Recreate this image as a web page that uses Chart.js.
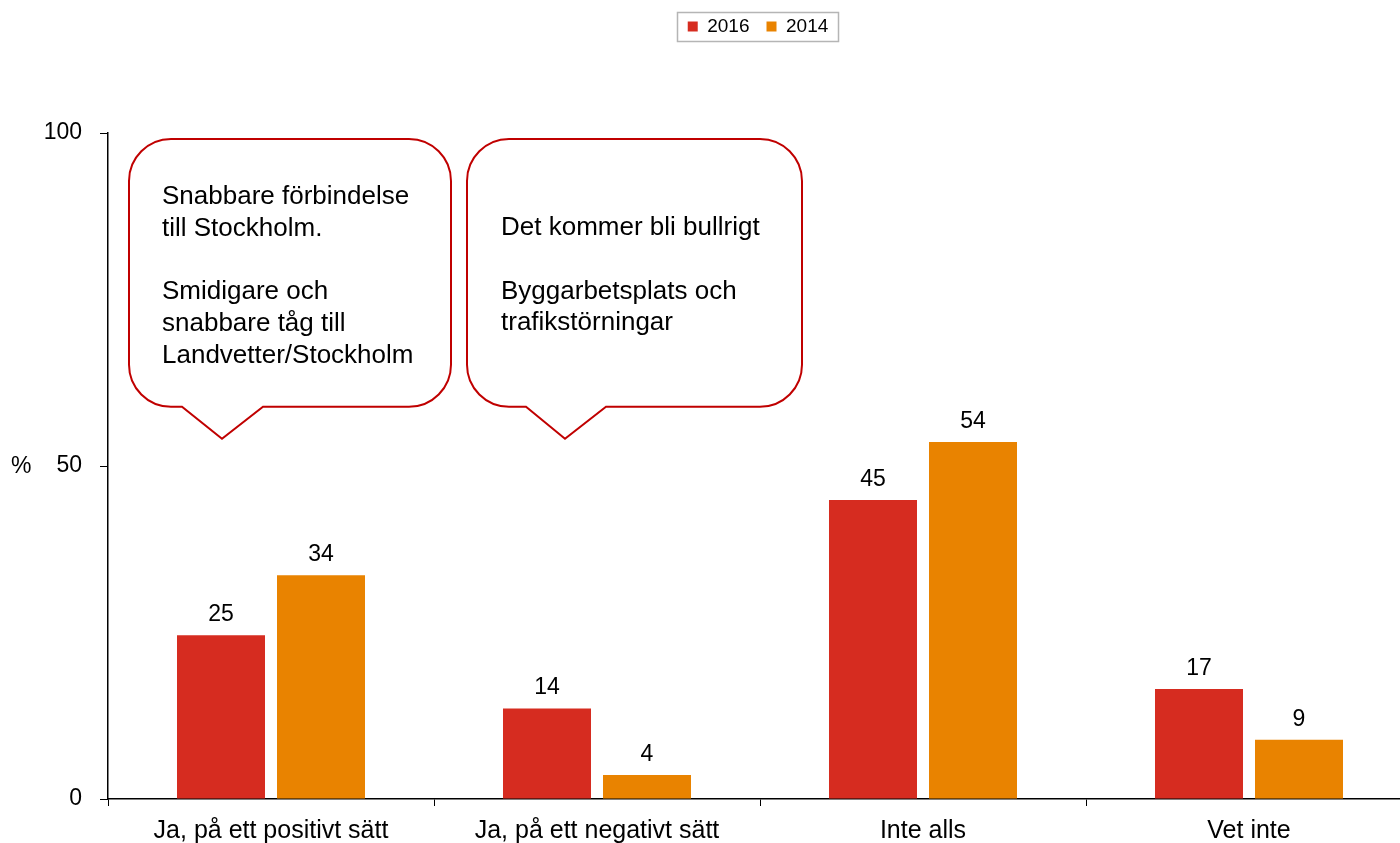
<!DOCTYPE html>
<html>
<head>
<meta charset="utf-8">
<script src="https://cdn.jsdelivr.net/npm/chart.js@4.4.1/dist/chart.umd.min.js"></script>
<style>
  html, body { margin: 0; padding: 0; background: #fff; overflow: hidden; }
  #wrap { width: 1412px; height: 843px; position: relative; }
</style>
</head>
<body>
<div id="wrap"><canvas id="c"></canvas></div>
<script>
// ---- data ----
const categories = ["Ja, på ett positivt sätt", "Ja, på ett negativt sätt", "Inte alls", "Vet inte"];
const series2016 = [24.6, 13.6, 44.9, 16.5];
const series2014 = [33.6, 3.6, 53.6, 8.9];
const seriesNames = ["2016", "2014"];
const yTicks = [0, 50, 100];
const callout1 = ["Snabbare förbindelse", "till Stockholm.", "", "Smidigare och", "snabbare tåg till", "Landvetter/Stockholm"];
const callout2 = ["Det kommer bli bullrigt", "", "Byggarbetsplats och", "trafikstörningar"];

const RED = "#d62c20";
const ORANGE = "#e98300";
const FONT = "'Liberation Sans', Arial, sans-serif";

const legendSpace = {
  id: "legendSpace",
  beforeLayout(chart) {
    const lg = chart.legend;
    if (lg && !lg._patched) {
      const f = lg.fit;
      lg.fit = function () { f.call(this); this.height = 133; };
      lg._patched = true;
    }
  },
  afterLayout(chart) {
    const lg = chart.legend;
    if (lg) { lg.left += 52; lg.right += 52; }
  },
  afterDraw(chart) {
    const lg = chart.legend;
    if (!lg || !lg.legendHitBoxes || !lg.legendHitBoxes.length) return;
    const hb = lg.legendHitBoxes;
    let l = Infinity, r = -Infinity, t = Infinity, b = -Infinity;
    hb.forEach(h => { l = Math.min(l, h.left); r = Math.max(r, h.left + h.width); t = Math.min(t, h.top); b = Math.max(b, h.top + h.height); });
    const ctx = chart.ctx;
    ctx.save();
    ctx.strokeStyle = "#b5b5b5";
    ctx.lineWidth = 1.5;
    ctx.strokeRect(Math.round(l - 11) + 0.5, Math.round(t - 5) + 0.5, Math.round(r - l + 20), Math.round(b - t + 10));
    ctx.restore();
  }
};

const valueLabels = {
  id: "valueLabels",
  afterDatasetsDraw(chart) {
    const ctx = chart.ctx;
    ctx.save();
    ctx.font = "23px " + FONT;
    ctx.fillStyle = "#000";
    ctx.textAlign = "center";
    ctx.textBaseline = "alphabetic";
    chart.data.datasets.forEach((ds, di) => {
      const meta = chart.getDatasetMeta(di);
      meta.data.forEach((bar, i) => {
        ctx.fillText(String(Math.round(ds.data[i])), bar.x, bar.y - 14);
      });
    });
    // "%" axis label
    const ys = chart.scales.y;
    ctx.textAlign = "left";
    ctx.textBaseline = "middle";
    ctx.fillText("%", 11, ys.getPixelForValue(50) + 1);
    ctx.restore();
  }
};

function roundedBubble(ctx, l, t, r, b, rad, tail) {
  ctx.beginPath();
  ctx.moveTo(l + rad, t);
  ctx.lineTo(r - rad, t);
  ctx.arcTo(r, t, r, t + rad, rad);
  ctx.lineTo(r, b - rad);
  ctx.arcTo(r, b, r - rad, b, rad);
  ctx.lineTo(tail[2], b);
  ctx.lineTo(tail[1], tail[3]);
  ctx.lineTo(tail[0], b);
  ctx.lineTo(l + rad, b);
  ctx.arcTo(l, b, l, b - rad, rad);
  ctx.lineTo(l, t + rad);
  ctx.arcTo(l, t, l + rad, t, rad);
  ctx.closePath();
}

const callouts = {
  id: "callouts",
  afterDraw(chart) {
    const xs = chart.scales.x, ys = chart.scales.y;
    const ctx = chart.ctx;
    const top = ys.getPixelForValue(99.1);
    const bot = ys.getPixelForValue(58.9);
    const tip = ys.getPixelForValue(54.1);
    const specs = [
      { cat: 0, dl: -142, dr: 180, tail: [-89, -49, -8], lines: callout1, tx: 33, ty: 65 },
      { cat: 1, dl: -130, dr: 205, tail: [-71, -32, 9], lines: callout2, tx: 34, ty: 96 }
    ];
    ctx.save();
    specs.forEach(s => {
      const c = xs.getPixelForValue(s.cat);
      const l = c + s.dl, r = c + s.dr;
      roundedBubble(ctx, l, top, r, bot, 42, [c + s.tail[0], c + s.tail[1], c + s.tail[2], tip]);
      ctx.fillStyle = "#fff";
      ctx.fill();
      ctx.strokeStyle = "#c00000";
      ctx.lineWidth = 2;
      ctx.stroke();
      ctx.fillStyle = "#000";
      ctx.font = "26px " + FONT;
      ctx.textAlign = "left";
      ctx.textBaseline = "alphabetic";
      s.lines.forEach((ln, i) => {
        if (ln) ctx.fillText(ln, l + s.tx, top + s.ty + i * 31.8);
      });
    });
    ctx.restore();
  }
};

new Chart(document.getElementById("c"), {
  type: "bar",
  data: {
    labels: categories,
    datasets: [
      { label: seriesNames[0], data: series2016, backgroundColor: RED, borderWidth: 0, categoryPercentage: 0.6135, barPercentage: 0.88 },
      { label: seriesNames[1], data: series2014, backgroundColor: ORANGE, borderWidth: 0, categoryPercentage: 0.6135, barPercentage: 0.88 }
    ]
  },
  options: {
    responsive: true,
    maintainAspectRatio: false,
    animation: false,
    layout: { padding: { left: 0, right: 0, top: 0, bottom: 0 } },
    plugins: {
      legend: {
        position: "top",
        align: "center",
        labels: {
          boxWidth: 10, boxHeight: 10, padding: 17,
          color: "#000",
          font: { family: FONT, size: 19 }
        }
      },
      tooltip: { enabled: false }
    },
    scales: {
      x: {
        offset: true,
        grid: { display: true, offset: true, drawOnChartArea: false, drawTicks: true, tickLength: 7, color: "#000", lineWidth: 1 },
        border: { display: true, color: "#000", width: 1.5 },
        ticks: { color: "#000", font: { family: FONT, size: 25 }, padding: 10, maxRotation: 0, autoSkip: false },
        afterFit(s) { s.height = 44; }
      },
      y: {
        min: 0, max: 100,
        afterBuildTicks(s) { s.ticks = yTicks.map(v => ({ value: v })); },
        grid: { display: true, drawOnChartArea: false, drawTicks: true, tickLength: 8, color: "#000", lineWidth: 1 },
        border: { display: true, color: "#000", width: 1.5 },
        ticks: { color: "#000", font: { family: FONT, size: 23 }, padding: 18 },
        afterFit(s) { s.width = 108; }
      }
    }
  },
  plugins: [legendSpace, valueLabels, callouts]
});
</script>
</body>
</html>
